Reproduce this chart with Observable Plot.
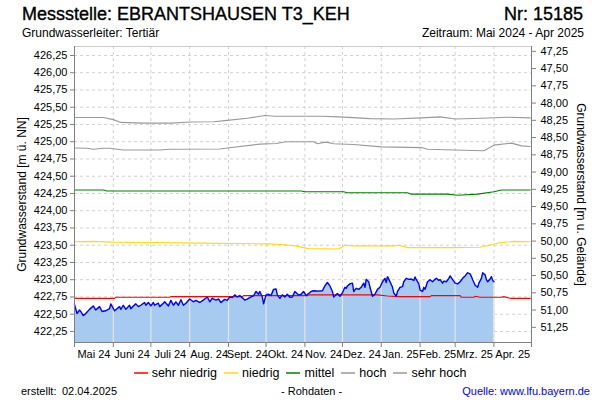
<!DOCTYPE html>
<html>
<head>
<meta charset="utf-8">
<script src="https://cdn.jsdelivr.net/npm/d3@7"></script>
<script src="https://cdn.jsdelivr.net/npm/@observablehq/plot@0.6"></script>
<style>
  html, body { margin: 0; padding: 0; background: #fff; overflow: hidden; }
  #wrap { position: relative; width: 600px; height: 400px; font-family: "Liberation Sans", Arial, sans-serif; color: #000; }
  #wrap > div { position: absolute; white-space: nowrap; }
  #chart { left: 0; top: 0; }
  .big { font-size: 18px; -webkit-text-stroke: 0.35px #000; }
  .legend { display: flex; justify-content: center; width: 600px; left: 0; top: 366px; font-size: 12.5px; }
  .legend .item { display: flex; align-items: center; margin: 0 3.5px; }
  .legend svg { margin-right: 4px; }
</style>
</head>
<body>
<div id="wrap">
  <div id="chart"></div>
  <div id="title" class="big" style="left:22px;top:4px;"></div>
  <div id="nr" class="big" style="right:17px;top:4px;"></div>
  <div id="sub" style="left:22px;top:26px;font-size:12px;"></div>
  <div id="zeit" style="right:16px;top:26px;font-size:12px;"></div>
  <div class="legend" id="legend"></div>
  <div id="f1" style="left:21px;top:385px;font-size:11px;"></div>
  <div id="f2" style="left:62px;top:385px;font-size:11px;"></div>
  <div id="f3" style="left:281px;top:385px;font-size:11px;"></div>
  <div id="f4" style="right:10px;top:385px;font-size:11px;color:#0000ff;"></div>
</div>
<script>
// ---- texts ----
const titleText = "Messstelle: EBRANTSHAUSEN T3_KEH";
const nrText = "Nr: 15185";
const subText = "Grundwasserleiter: Tertiär";
const zeitText = "Zeitraum: Mai 2024 - Apr 2025";
const leftAxisTitle = "Grundwasserstand [m ü. NN]";
const rightAxisTitle = "Grundwasserstand [m u. Gelände]";
const footerCreatedLabel = "erstellt:";
const footerCreatedDate = "02.04.2025";
const footerMiddle = "- Rohdaten -";
const footerSource = "Quelle: www.lfu.bayern.de";

// ---- axes ----
const monthLabels = ["Mai 24","Juni 24","Juli 24","Aug. 24","Sept. 24","Okt. 24","Nov. 24","Dez. 24","Jan. 25","Feb. 25","Mrz. 25","Apr. 25"];
const leftTicks = [422.25,422.5,422.75,423,423.25,423.5,423.75,424,424.25,424.5,424.75,425,425.25,425.5,425.75,426,426.25];
const rightTicks = [47.25,47.5,47.75,48,48.25,48.5,48.75,49,49.25,49.5,49.75,50,50.25,50.5,50.75,51,51.25];
const groundLevel = 473.56;
const yDomain = [422.09, 426.38];
const periodStart = "2024-05-01";
const periodEnd = "2025-05-01";

// ---- legend ----
const legendNames = ["sehr niedrig","niedrig","mittel","hoch","sehr hoch"];
const legendColors = ["#ff0000","#ffdd00","#008000","#999999","#999999"];

// ---- measured water level ----
const waterDates = ["2024-05-01","2024-05-03","2024-05-05","2024-05-06","2024-05-08","2024-05-10","2024-05-13","2024-05-16","2024-05-18","2024-05-21","2024-05-23","2024-05-26","2024-05-29","2024-05-30",
"2024-06-02","2024-06-04","2024-06-06","2024-06-07","2024-06-09","2024-06-11","2024-06-14","2024-06-15","2024-06-17","2024-06-19","2024-06-21","2024-06-23","2024-06-26","2024-06-27","2024-06-29",
"2024-07-01","2024-07-03","2024-07-04","2024-07-07","2024-07-08","2024-07-11","2024-07-12","2024-07-15","2024-07-17","2024-07-19","2024-07-21","2024-07-23","2024-07-25","2024-07-27","2024-07-29",
"2024-08-01","2024-08-04","2024-08-06","2024-08-09","2024-08-12","2024-08-15","2024-08-17","2024-08-19","2024-08-22","2024-08-24","2024-08-26","2024-08-29","2024-08-31",
"2024-09-02","2024-09-04","2024-09-06","2024-09-08","2024-09-10","2024-09-12","2024-09-14","2024-09-16","2024-09-19","2024-09-21","2024-09-23","2024-09-25","2024-09-26","2024-09-28","2024-09-29",
"2024-10-01","2024-10-03","2024-10-05","2024-10-07","2024-10-09","2024-10-10","2024-10-12","2024-10-14","2024-10-16","2024-10-18","2024-10-20","2024-10-22","2024-10-24","2024-10-27","2024-10-29","2024-10-31",
"2024-11-02","2024-11-04","2024-11-06","2024-11-08","2024-11-12","2024-11-15","2024-11-17","2024-11-19","2024-11-21","2024-11-23","2024-11-24","2024-11-27","2024-11-29",
"2024-12-01","2024-12-03","2024-12-04","2024-12-05","2024-12-07","2024-12-09","2024-12-10","2024-12-12","2024-12-14","2024-12-16","2024-12-18","2024-12-19","2024-12-20","2024-12-22","2024-12-23","2024-12-25","2024-12-27","2024-12-29","2024-12-31",
"2025-01-02","2025-01-04","2025-01-05","2025-01-06","2025-01-08","2025-01-10","2025-01-11","2025-01-13","2025-01-14","2025-01-16","2025-01-18","2025-01-19","2025-01-21","2025-01-23","2025-01-25","2025-01-27","2025-01-28","2025-01-29","2025-01-31",
"2025-02-01","2025-02-03","2025-02-04","2025-02-05","2025-02-07","2025-02-09","2025-02-11","2025-02-13","2025-02-14","2025-02-16","2025-02-17","2025-02-19","2025-02-20","2025-02-22","2025-02-24","2025-02-25","2025-02-27",
"2025-03-01","2025-03-03","2025-03-05","2025-03-07","2025-03-09","2025-03-11","2025-03-13","2025-03-14","2025-03-15","2025-03-17","2025-03-19","2025-03-20","2025-03-22","2025-03-23","2025-03-25","2025-03-26","2025-03-27","2025-03-29","2025-03-30","2025-03-31",
"2025-04-01"];
const waterLevels = [422.64,422.51,422.56,422.54,422.48,422.51,422.57,422.62,422.56,422.61,422.54,422.55,422.58,422.65,
422.55,422.58,422.61,422.57,422.63,422.57,422.63,422.58,422.62,422.65,422.61,422.63,422.67,422.63,422.67,
422.62,422.67,422.63,422.66,422.61,422.66,422.68,422.62,422.70,422.63,422.68,422.63,422.71,422.63,422.66,
422.72,422.68,422.70,422.67,422.705,422.75,422.68,422.73,422.705,422.72,422.67,422.715,422.70,
422.75,422.74,422.78,422.75,422.77,422.74,422.705,422.72,422.75,422.765,422.83,422.79,422.83,422.75,422.65,
422.78,422.79,422.77,422.86,422.865,422.78,422.73,422.78,422.75,422.79,422.745,422.75,422.83,422.78,422.79,422.83,
422.77,422.80,422.83,422.84,422.835,422.84,422.91,422.96,422.91,422.83,422.75,422.80,422.76,
422.81,422.89,422.875,422.91,422.94,422.95,422.83,422.875,422.86,422.89,422.95,422.89,423.005,422.97,422.89,422.76,422.79,422.86,422.89,
422.97,423.02,422.96,423.045,422.97,422.89,422.81,422.76,422.83,422.89,422.90,422.97,423.02,423.005,423.01,422.99,423.04,423.00,422.94,
422.85,422.83,422.89,422.86,422.97,423.00,422.97,423.005,423.02,422.99,423.00,422.95,422.98,422.97,423.02,423.055,423.00,
422.95,422.94,422.97,423.02,423.055,423.10,423.085,423.045,423.00,422.92,422.89,422.95,423.02,423.10,423.07,423.00,422.97,423.01,423.045,422.99,
422.97];

// ---- reference levels ----
const sehrHoch = [["2024-05-01",425.35],["2024-05-24",425.35],["2024-06-01",425.32],["2024-06-07",425.28],["2024-06-25",425.27],["2024-07-17",425.27],["2024-08-02",425.285],["2024-08-20",425.29],["2024-08-31",425.31],["2024-09-16",425.34],["2024-09-30",425.38],["2024-10-08",425.37],["2024-11-14",425.37],["2024-11-28",425.36],["2024-12-13",425.345],["2024-12-23",425.335],["2025-01-11",425.33],["2025-02-02",425.345],["2025-02-17",425.36],["2025-03-01",425.33],["2025-03-22",425.34],["2025-04-12",425.355],["2025-04-30",425.345]];
const hoch = [["2024-05-01",424.91],["2024-05-11",424.905],["2024-05-16",424.89],["2024-05-24",424.905],["2024-05-29",424.905],["2024-06-09",424.88],["2024-07-08",424.88],["2024-07-16",424.89],["2024-08-25",424.895],["2024-08-31",424.91],["2024-09-26",424.965],["2024-10-09",424.975],["2024-10-17",425.0],["2024-11-08",425.0],["2024-11-11",424.97],["2024-11-16",424.99],["2024-11-19",424.99],["2024-11-24",424.97],["2024-12-10",424.96],["2025-01-01",424.925],["2025-02-02",424.915],["2025-02-07",424.89],["2025-02-28",424.88],["2025-03-24",424.87],["2025-04-01",424.95],["2025-04-15",424.98],["2025-04-23",424.94],["2025-04-30",424.93]];
const mittel = [["2024-05-01",424.30],["2024-05-24",424.30],["2024-05-27",424.285],["2024-10-29",424.285],["2024-11-01",424.275],["2024-12-02",424.275],["2024-12-05",424.26],["2025-01-22",424.26],["2025-01-25",424.24],["2025-02-23",424.24],["2025-03-03",424.225],["2025-03-19",424.24],["2025-04-01",424.275],["2025-04-07",424.30],["2025-04-30",424.30]];
const niedrig = [["2024-05-01",423.55],["2024-05-16",423.555],["2024-06-01",423.545],["2024-07-01",423.54],["2024-08-10",423.53],["2024-10-02",423.52],["2024-10-13",423.51],["2024-10-24",423.49],["2024-11-04",423.45],["2024-11-28",423.445],["2024-12-03",423.50],["2024-12-10",423.49],["2025-01-11",423.49],["2025-01-15",423.50],["2025-01-22",423.465],["2025-02-28",423.465],["2025-03-21",423.47],["2025-03-31",423.51],["2025-04-05",423.535],["2025-04-17",423.555],["2025-04-30",423.55]];
const sehrNiedrig = [["2024-05-01",422.73],["2024-06-02",422.73],["2024-06-03",422.745],["2024-07-16",422.745],["2024-07-17",422.755],["2024-09-12",422.755],["2024-09-13",422.77],["2024-11-03",422.77],["2024-11-05",422.78],["2024-12-29",422.78],["2025-01-06",422.765],["2025-01-14",422.755],["2025-02-09",422.755],["2025-02-10",422.77],["2025-03-05",422.77],["2025-03-06",422.745],["2025-03-16",422.745],["2025-03-17",422.76],["2025-03-21",422.745],["2025-04-07",422.745],["2025-04-09",422.755],["2025-04-14",422.73],["2025-04-30",422.73]];

// ---- build ----
const parse = s => new Date(s + "T00:00:00Z");
const water = waterDates.map((d, i) => ({date: parse(d), level: waterLevels[i]}));
const toRows = arr => arr.map(([d, v]) => ({date: parse(d), value: v}));
const x0 = parse(periodStart), x1 = parse(periodEnd);
const monthStarts = d3.utcMonth.range(x0, d3.utcDay.offset(x1, 1));
const monthMids = monthStarts.slice(0, -1).map((d, i) => new Date((+d + +monthStarts[i + 1]) / 2));
const labelByTime = new Map(monthMids.map((d, i) => [+d, monthLabels[i]]));
const fmt = v => v.toFixed(2).replace(".", ",");
const bis = d3.bisector(d => d.date).center;
const lastWater = water[water.length - 1].date;
const areaTicks = monthStarts.filter(d => d > x0 && d <= lastWater)
  .map(d => ({date: d, level: water[bis(water, d)].level}));

const series = [sehrNiedrig, niedrig, mittel, hoch, sehrHoch];
const lineMarks = series.map((s, i) => Plot.lineY(toRows(s), {x: "date", y: "value", stroke: legendColors[i], strokeWidth: 1.1}));

const chart = Plot.plot({
  width: 600, height: 400,
  marginTop: 46, marginBottom: 58, marginLeft: 74, marginRight: 69,
  style: {fontFamily: "'Liberation Sans', Arial, sans-serif", fontSize: "11px", background: "transparent", color: "#000"},
  x: {type: "utc", domain: [x0, x1]},
  y: {domain: yDomain},
  marks: [
    Plot.gridY(leftTicks, {stroke: "#d0d0d0", strokeOpacity: 1, strokeDasharray: "3,3"}),
    Plot.gridX(monthStarts.slice(1, -1), {stroke: "#d0d0d0", strokeOpacity: 1, strokeDasharray: "3,3"}),
    Plot.areaY(water, {x: "date", y1: yDomain[0], y2: "level", fill: "#a6caf0"}),
    Plot.ruleX(areaTicks, {x: "date", y1: yDomain[0], y2: "level", stroke: "#e4e4e4", strokeWidth: 1.2}),
    ...lineMarks,
    Plot.lineY(water, {x: "date", y: "level", stroke: "#0000ff", strokeWidth: 1.4}),
    Plot.ruleY([yDomain[1]], {stroke: "#cccccc"}),
    Plot.ruleY([yDomain[0]], {stroke: "#808080"}),
    Plot.ruleX([x0, x1], {stroke: "#808080"}),
    Plot.axisY(leftTicks, {anchor: "left", tickSize: 4, tickPadding: 3, tickFormat: fmt, label: null, stroke: "#808080", fill: "#000"}),
    Plot.axisY(rightTicks.map(r => groundLevel - r), {anchor: "right", tickSize: 4, tickPadding: 5, tickFormat: v => fmt(groundLevel - v), label: null, stroke: "#808080", fill: "#000"}),
    Plot.axisX(monthStarts, {tickSize: 5, tickFormat: () => "", label: null, stroke: "#808080"}),
    Plot.axisX(monthMids, {tickSize: 0, tickPadding: 8, tickFormat: d => labelByTime.get(+d), label: null, fill: "#000"}),
    Plot.text([leftAxisTitle], {text: d => d, frameAnchor: "left", textAnchor: "middle", dx: -52, rotate: -90, fontSize: 12, fill: "#000"}),
    Plot.text([rightAxisTitle], {text: d => d, frameAnchor: "right", textAnchor: "middle", dx: 49, rotate: 90, fontSize: 12, fill: "#000"})
  ]
});
document.getElementById("chart").appendChild(chart);

document.getElementById("title").textContent = titleText;
document.getElementById("nr").textContent = nrText;
document.getElementById("sub").textContent = subText;
document.getElementById("zeit").textContent = zeitText;
document.getElementById("f1").textContent = footerCreatedLabel;
document.getElementById("f2").textContent = footerCreatedDate;
document.getElementById("f3").textContent = footerMiddle;
document.getElementById("f4").textContent = footerSource;
const legend = document.getElementById("legend");
const NS = "http://www.w3.org/2000/svg";
legendNames.forEach((n, i) => {
  const item = document.createElement("span");
  item.className = "item";
  const sw = document.createElementNS(NS, "svg");
  sw.setAttribute("width", "14");
  sw.setAttribute("height", "6");
  const ln = document.createElementNS(NS, "line");
  ln.setAttribute("x1", "0"); ln.setAttribute("x2", "14");
  ln.setAttribute("y1", "3"); ln.setAttribute("y2", "3");
  ln.setAttribute("stroke", legendColors[i]);
  ln.setAttribute("stroke-width", "1.5");
  sw.appendChild(ln);
  item.appendChild(sw);
  const t = document.createElement("span");
  t.textContent = n;
  item.appendChild(t);
  legend.appendChild(item);
});
</script>
</body>
</html>
